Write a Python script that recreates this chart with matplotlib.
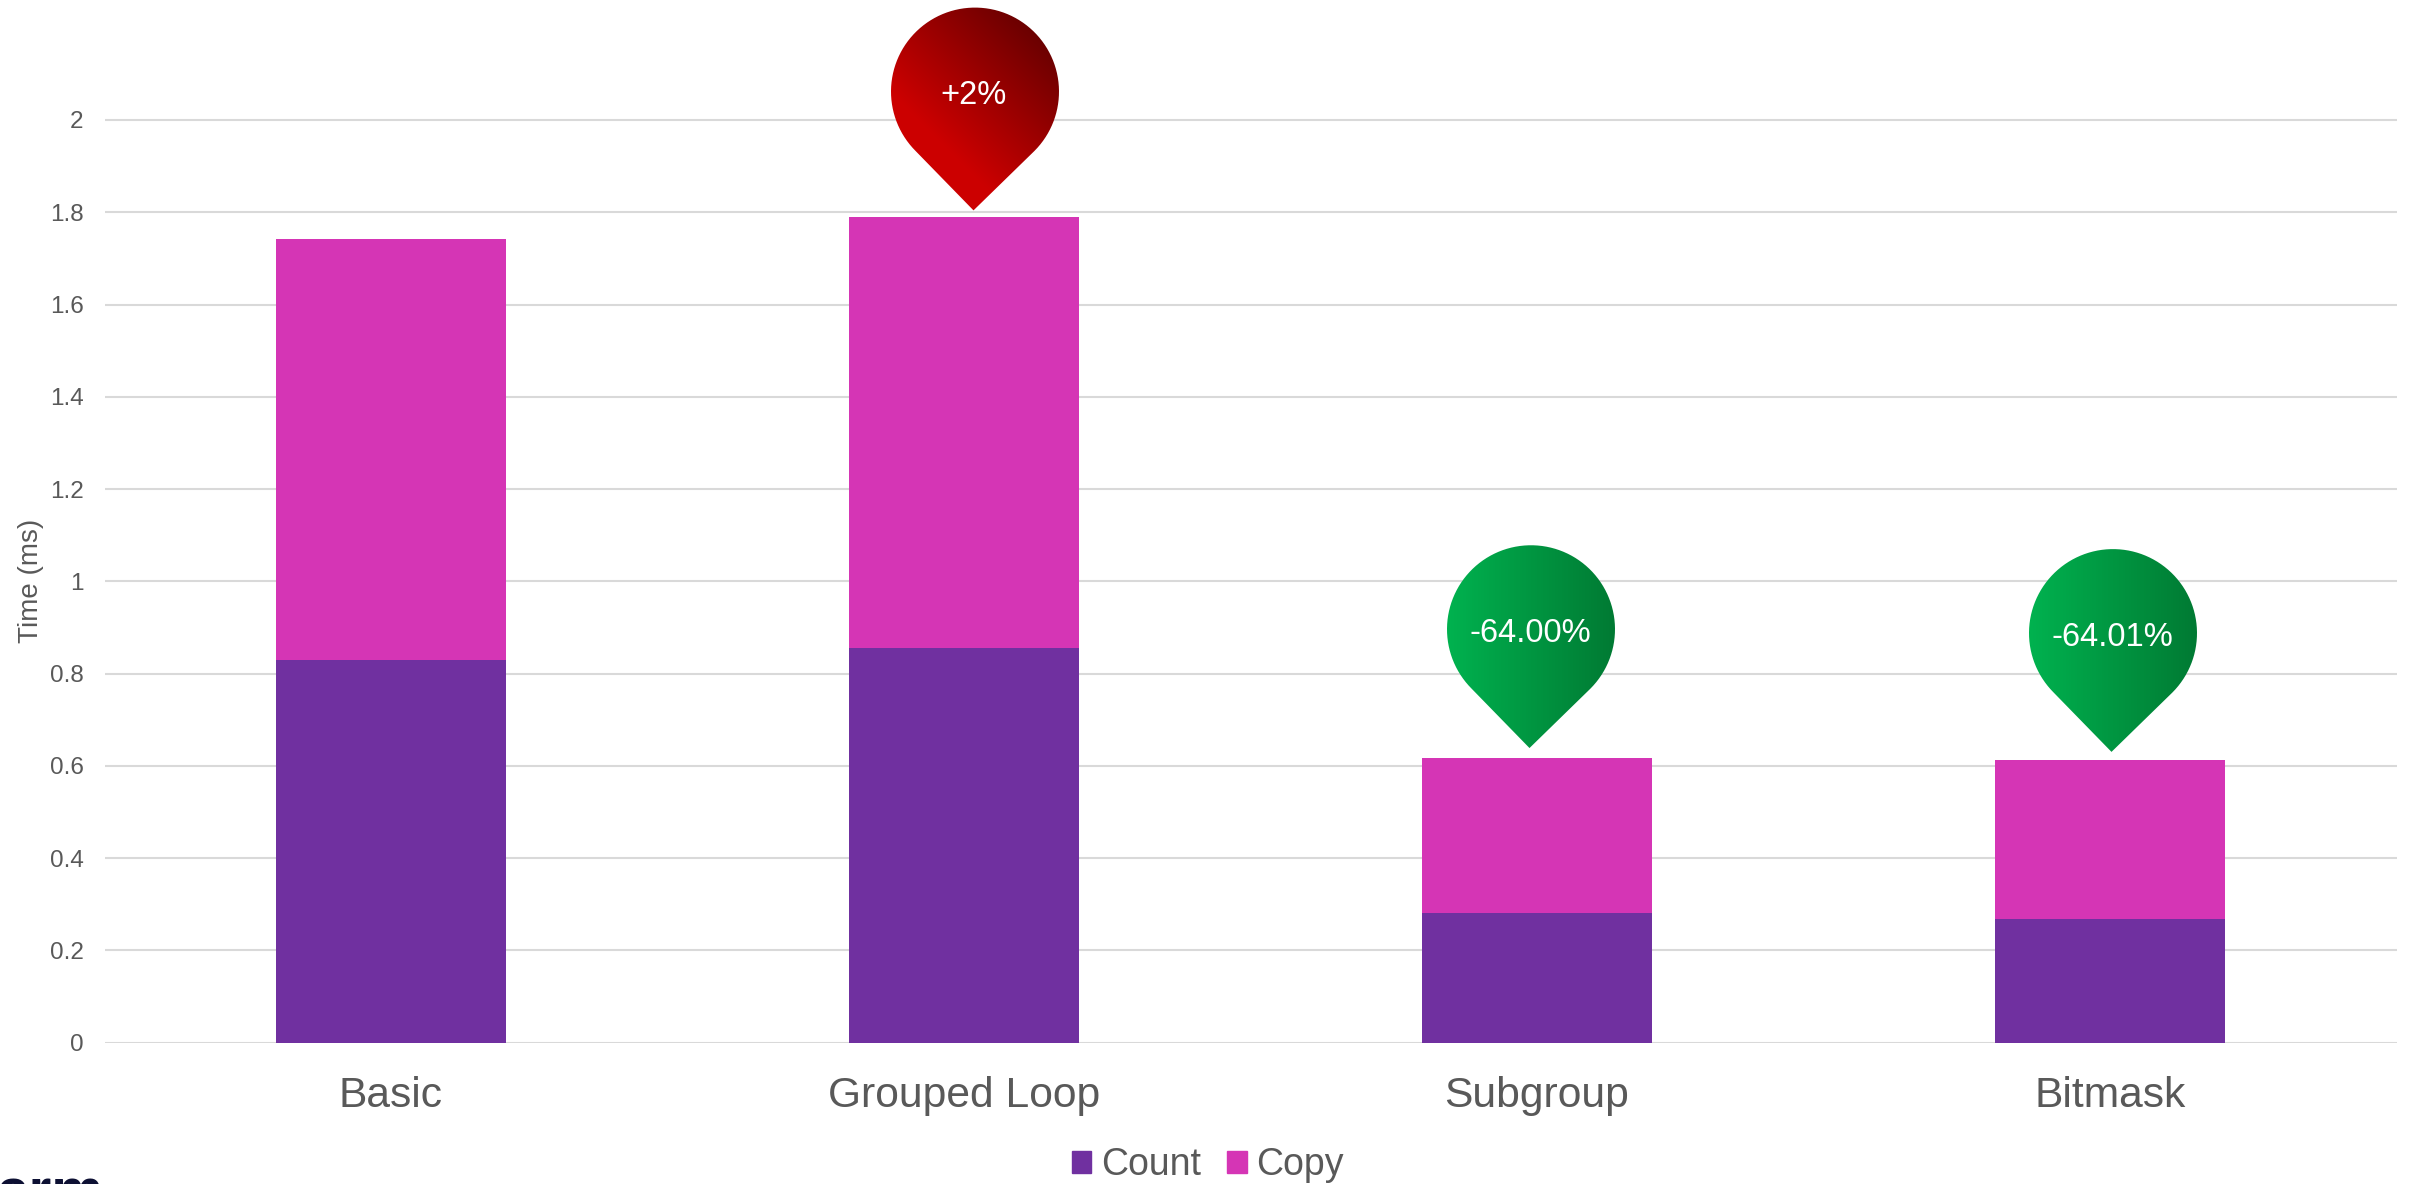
import matplotlib
matplotlib.use('Agg')
import matplotlib.pyplot as plt
import numpy as np
from matplotlib.colors import LinearSegmentedColormap
from matplotlib.patches import PathPatch, Patch
from matplotlib.path import Path

plt.rcParams['font.family'] = ['Liberation Sans', 'DejaVu Sans']

W, H = 2410, 1184
TEXT = '#595959'
GRID = '#D9D9D9'
PURPLE = '#7030A0'
PINK = '#D535B5'

categories = ['Basic', 'Grouped Loop', 'Subgroup', 'Bitmask']
count_ms = [0.83, 0.855, 0.2805, 0.269]
copy_ms = [0.9116, 0.935, 0.3365, 0.344]
y_ticks = [0, 0.2, 0.4, 0.6, 0.8, 1, 1.2, 1.4, 1.6, 1.8, 2]
y_tick_labels = ['0', '0.2', '0.4', '0.6', '0.8', '1', '1.2', '1.4', '1.6', '1.8', '2']

pin_labels = ['+2%', '-64.00%', '-64.01%']
pin_bars = [1, 2, 3]
pin_kinds = ['red', 'green', 'green']
pin_dx = [9.5, -7.5, 1.5]
pin_gap = [6.5, 10, 8]

fig = plt.figure(figsize=(W / 100, H / 100), dpi=100, facecolor='white')
axis_y = 1042.7
ax = fig.add_axes([104.5 / W, (H - axis_y) / H, 2292 / W, axis_y / H])

x = np.arange(len(categories))
ax.bar(x, count_ms, width=0.4, color=PURPLE, zorder=3, label='Count')
ax.bar(x, copy_ms, width=0.4, bottom=count_ms, color=PINK, zorder=3, label='Copy')

ax.set_xlim(-0.5, 3.5)
ax.set_ylim(0, axis_y / 461.35)
ax.set_yticks(y_ticks)
ax.set_yticklabels(y_tick_labels)
ax.set_xticks(x)
ax.set_xticklabels(categories)
ax.tick_params(axis='y', length=0, pad=15, labelsize=17.5, labelcolor=TEXT)
ax.tick_params(axis='x', length=0, pad=24, labelsize=30.7, labelcolor=TEXT)
ax.grid(axis='y', color=GRID, linewidth=1.5, zorder=0)
ax.set_axisbelow(True)
for s in ax.spines.values():
    s.set_visible(False)

ax.set_ylabel('Time (ms)', fontsize=20, color=TEXT)
ax.yaxis.set_label_coords((44.5 - 104.5) / 2292, 1 - 581 / axis_y)

handles = [Patch(color=PURPLE, label='Count'), Patch(color=PINK, label='Copy')]
fig.legend(handles=handles, loc='center', bbox_to_anchor=(1208 / W, 1 - 1165 / H),
           ncol=2, frameon=False, fontsize=27, labelcolor=TEXT, borderpad=0,
           handlelength=0.52, handleheight=0.52, handletextpad=0.27, columnspacing=0.68)

# overlay in pixel coords for the pins
ov = fig.add_axes([0, 0, 1, 1], zorder=5)
ov.patch.set_alpha(0)
ov.axis('off')

red_cmap = LinearSegmentedColormap.from_list('r', ['#CC0000', '#6B0000'])
green_cmap = LinearSegmentedColormap.from_list('g', ['#00B24F', '#007A33'])


def draw_pin(tip_x, tip_y, label, kind, r=84):
    cx, cy = tip_x + 1.5, tip_y - r * np.sqrt(2)
    ang = np.radians(np.linspace(135, 405, 90))
    xs = list(cx + r * np.cos(ang)) + [tip_x]
    ys = list(cy + r * np.sin(ang)) + [tip_y]
    verts = list(zip(xs, ys)) + [(xs[0], ys[0])]
    codes = [Path.MOVETO] + [Path.LINETO] * (len(verts) - 2) + [Path.CLOSEPOLY]
    path = Path(verts, codes)

    px, py = np.meshgrid(np.arange(cx - r - 2, cx + r + 2), np.arange(cy - r - 2, tip_y + 2))
    if kind == 'red':
        t = ((px - cx) - (py - cy)) / np.sqrt(2)
        t = (t + 60) / 144
        cmap = red_cmap
    else:
        t = (px - cx + r) / (2 * r)
        cmap = green_cmap
    im = ov.imshow(np.clip(t, 0, 1), cmap=cmap, vmin=0, vmax=1, aspect='auto',
                   extent=(cx - r - 2, cx + r + 2, tip_y + 2, cy - r - 2), interpolation='bilinear')
    im.set_clip_path(PathPatch(path, transform=ov.transData))
    ov.text(cx - 1, cy + 4, label, color='white', fontsize=23.5, ha='center', va='center')


totals = np.array(count_ms) + np.array(copy_ms)
for i in range(len(pin_labels)):
    bar = pin_bars[i]
    bx, by = ax.transData.transform((x[bar], totals[bar]))
    draw_pin(bx + pin_dx[i], H - by - pin_gap[i], pin_labels[i], pin_kinds[i])
ov.set_xlim(0, W)
ov.set_ylim(H, 0)

# logo cut off by the bottom edge
fig.text(-4 / W, -25 / H, 'arm', fontsize=42, fontweight='bold', color='#0D1033', ha='left', va='baseline')

fig.savefig('out.png', dpi=100)
